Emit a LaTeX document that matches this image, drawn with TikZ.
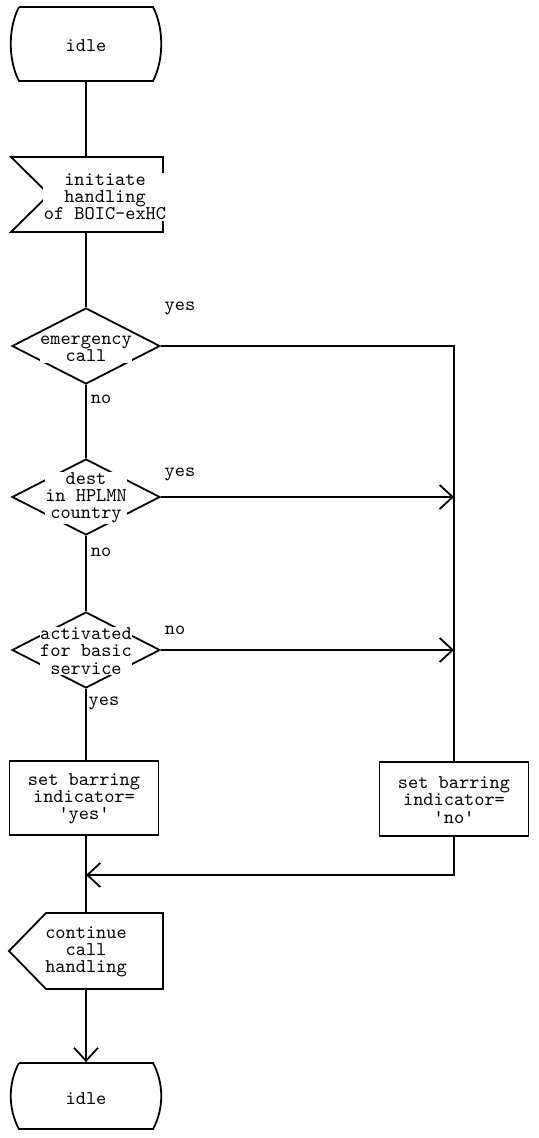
\documentclass[tikz,border=0pt]{standalone}
\usepackage{fontspec}
\usetikzlibrary{shapes.geometric,arrows.meta}
\begin{document}
\begin{tikzpicture}[x=0.5pt,y=-0.5pt, line width=0.9pt,
  txt/.style={font=\ttfamily\fontsize{9.7}{8.6}\selectfont, align=center, inner sep=0.3pt, fill=white},
  lbl/.style={font=\ttfamily\fontsize{9.7}{8.6}\selectfont, inner sep=0pt},
  dec/.style={diamond, draw, minimum width=74pt, minimum height=38pt, inner sep=0pt},
  box/.style={rectangle, draw, minimum width=74.5pt, minimum height=37pt, inner sep=0pt},
  frame/.style={rectangle, draw=none, inner sep=0pt},
  arr/.style={-{Straight Barb[length=6.5pt,width=12pt]}}]
\useasboundingbox (0,0) rectangle (538,1138);

% idle (top)
\node[frame, minimum width=74pt, minimum height=37pt] (idle1) at (86,44) {};
\draw (19,7) -- (153,7) .. controls (164,28) and (164,60) .. (153,81) -- (19,81) .. controls (8,60) and (8,28) .. (19,7);

% input signal
\node[frame, minimum width=76pt, minimum height=37.5pt] (in1) at (86,194.5) {};
\draw (11,157) -- (163,157) -- (163,232) -- (11,232) -- (49,194.5) -- cycle;

% decisions
\node[dec] (d1) at (86,346) {};
\node[dec] (d2) at (86,497) {};
\node[dec] (d3) at (86,650) {};

% tasks
\node[box] (box1) at (84,798) {};
\node[box] (box2) at (454,799) {};

% output signal
\node[frame, minimum width=77pt, minimum height=38pt] (out) at (86,951) {};
\draw (46,913) -- (163,913) -- (163,989) -- (46,989) -- (9,951) -- cycle;

% idle (bottom)
\node[frame, minimum width=74pt, minimum height=33pt] (idle2) at (86,1096) {};
\draw (19,1063) -- (153,1063) .. controls (164,1083) and (164,1109) .. (153,1129) -- (19,1129) .. controls (8,1109) and (8,1083) .. (19,1063);

% connectors
\draw (idle1.south) -- (in1.north);
\draw (in1.south) -- (d1.north);
\draw (d1.south) -- (d2.north);
\draw (d2.south) -- (d3.north);
\draw (d3.south) -- (d3.south |- box1.north);
\draw (d1.east) -| (box2.north);
\coordinate (j2) at (box2.north |- d2.east);
\coordinate (j3) at (box2.north |- d3.east);
\draw[arr] (d2.east) -- (j2);
\draw[arr] (d3.east) -- (j3);
\coordinate (j4) at (86,875);
\draw (box1.south -| out.north) -- (out.north);
\draw[arr] (box2.south) |- (j4);
\draw[arr] (out.south) -- (idle2.north);

% labels
\node[lbl] (l1) at (180,308) {yes};
\node[lbl] (l2) at (101,399) {no};
\node[lbl] (l3) at (180,474) {yes};
\node[lbl] (l4) at (101,552) {no};
\node[lbl] (l5) at (175,630) {no};
\node[lbl] (l6) at (104,703) {yes};

% texts
\node[txt] (t0) at (86,46) {idle};
\node[txt] (t1) at (105,197) {initiate\\handling\\of BOIC-exHC};
\node[txt] (t2) at (86,349) {emergency\\call};
\node[txt] (t3) at (86,498) {dest\\in HPLMN\\country};
\node[txt] (t4) at (86,651) {activated\\for basic\\service};
\node[txt] (t5) at (84,799) {set barring\\indicator=\\'yes'};
\node[txt] (t6) at (454,800) {set barring\\indicator=\\'no'};
\node[txt] (t7) at (86,952) {continue\\call\\handling};
\node[txt] (t8) at (86,1099) {idle};
\end{tikzpicture}
\end{document}
